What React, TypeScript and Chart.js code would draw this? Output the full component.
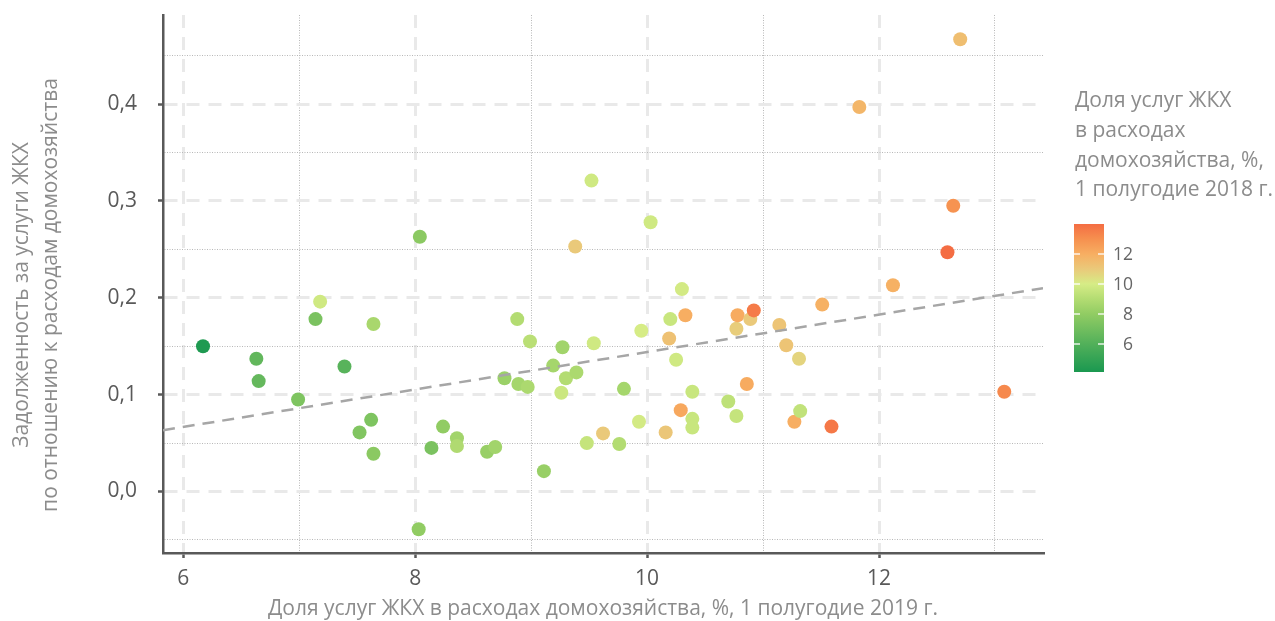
import React, { useEffect, useRef } from 'react';
import { Chart, registerables } from 'chart.js';

Chart.register(...registerables);

// ---- data ----
const xShare2019 = [
  6.17, 6.63, 6.65, 6.99, 7.14, 7.18, 7.39, 7.52, 7.62, 7.64,
  7.64, 8.04, 8.03, 8.14, 8.24, 8.36, 8.36, 8.62, 8.69, 8.77,
  8.88, 8.89, 8.97, 8.99, 9.11, 9.19, 9.26, 9.27, 9.3, 9.39,
  9.38, 9.48, 9.52, 9.54, 9.62, 9.76, 9.8, 9.93, 9.95, 10.03,
  10.16, 10.19, 10.2, 10.25, 10.29, 10.3, 10.33, 10.39, 10.39, 10.39,
  10.7, 10.77, 10.77, 10.78, 10.86, 10.89, 10.92, 11.14, 11.2, 11.27,
  11.31, 11.32, 11.51, 11.59, 11.83, 12.12, 12.59, 12.64, 12.7, 13.08,
];
const yDebt = [
  0.15, 0.137, 0.114, 0.095, 0.178, 0.196, 0.129, 0.061, 0.074, 0.173,
  0.039, 0.263, -0.039, 0.045, 0.067, 0.055, 0.047, 0.041, 0.046, 0.117,
  0.178, 0.111, 0.108, 0.155, 0.021, 0.13, 0.102, 0.149, 0.117, 0.123,
  0.253, 0.05, 0.321, 0.153, 0.06, 0.049, 0.106, 0.072, 0.166, 0.278,
  0.061, 0.158, 0.178, 0.136, 0.084, 0.209, 0.182, 0.103, 0.075, 0.066,
  0.093, 0.078, 0.168, 0.182, 0.111, 0.178, 0.187, 0.172, 0.151, 0.072,
  0.137, 0.083, 0.193, 0.067, 0.397, 0.213, 0.247, 0.295, 0.467, 0.103,
];
const cShare2018 = [
  4.3, 6.5, 6.6, 7.4, 7.3, 9.8, 6.2, 7.5, 7.4, 8.7,
  7.8, 7.8, 8.0, 7.3, 8.0, 8.5, 8.9, 8.2, 8.5, 8.3,
  9.0, 8.6, 8.8, 9.2, 8.2, 8.6, 9.7, 8.5, 9.0, 8.8,
  11.0, 9.5, 9.8, 9.8, 11.0, 9.0, 8.6, 9.9, 10.0, 9.8,
  11.1, 11.3, 9.6, 9.8, 12.2, 9.9, 12.0, 9.6, 9.6, 9.6,
  9.3, 9.5, 10.9, 12.1, 12.1, 11.0, 13.6, 11.2, 11.2, 12.0,
  10.7, 9.4, 11.9, 13.7, 11.7, 11.9, 14.0, 12.9, 11.4, 13.2,
];
const trendX = [5.825, 13.414];
const trendY = [0.0633, 0.21];

const xTickValues = [6, 7, 8, 9, 10, 11, 12, 13];
const xMajorTicks = [6, 8, 10, 12];
const yTickValues = [-0.05, 0, 0.05, 0.1, 0.15, 0.2, 0.25, 0.3, 0.35, 0.4, 0.45];
const yMajorTicks = [0, 0.1, 0.2, 0.3, 0.4];
const colorbarTicks = [6, 8, 10, 12];

const xTitle = 'Доля услуг ЖКХ в расходах домохозяйства, %, 1 полугодие 2019 г.';
const yTitle = ['Задолженность за услуги ЖКХ', 'по отношению к расходам домохозяйства'];
const legendTitle = ['Доля услуг ЖКХ', 'в расходах', 'домохозяйства, %,', '1 полугодие 2018 г.'];

const colorMin = 4.13;
const colorMax = 14.0;
const colorStopValues = [4.13, 6, 8, 9, 10, 11, 12, 13, 14];
const colorStopColors = ['#1a9850', '#52b05a', '#91cc63', '#b3dc72', '#d6ec86', '#eac97a', '#f7ae62', '#f6904f', '#f46d43'];

// ---- helpers ----
const FONT = "'Open Sans', 'Noto Sans', sans-serif";

function hexToRgb(h: string) {
  const n = parseInt(h.slice(1), 16);
  return [(n >> 16) & 255, (n >> 8) & 255, n & 255];
}
function colorFor(v: number) {
  const vs = colorStopValues;
  if (v <= vs[0]) return colorStopColors[0];
  if (v >= vs[vs.length - 1]) return colorStopColors[vs.length - 1];
  for (let i = 0; i < vs.length - 1; i++) {
    if (v >= vs[i] && v <= vs[i + 1]) {
      const t = (v - vs[i]) / (vs[i + 1] - vs[i]);
      const a = hexToRgb(colorStopColors[i]);
      const b = hexToRgb(colorStopColors[i + 1]);
      const c = a.map((x, k) => Math.round(x + (b[k] - x) * t));
      return `rgb(${c[0]},${c[1]},${c[2]})`;
    }
  }
  return colorStopColors[0];
}
const isMajor = (v: number, majors: number[]) => majors.some((m) => Math.abs(m - v) < 1e-9);

const overlayPlugin = {
  id: 'overlay',
  afterDraw(chart: any) {
    const ctx = chart.ctx as CanvasRenderingContext2D;
    ctx.save();
    // axis titles
    ctx.fillStyle = '#8c8c8c';
    ctx.font = `21px ${FONT}`;
    ctx.textAlign = 'center';
    ctx.textBaseline = 'middle';
    const ca = chart.chartArea;
    ctx.fillText(xTitle, (ca.left + ca.right) / 2, 609);
    const yc = 295;
    const lineX = [22, 51];
    yTitle.forEach((t, i) => {
      ctx.save();
      ctx.translate(lineX[i], yc);
      ctx.rotate(-Math.PI / 2);
      ctx.fillText(t, 0, 0);
      ctx.restore();
    });
    // legend title
    ctx.textAlign = 'left';
    ctx.textBaseline = 'alphabetic';
    ctx.font = `21px ${FONT}`;
    legendTitle.forEach((t, i) => ctx.fillText(t, 1075, 107 + i * 29.8));
    // colorbar
    const bx = 1074, bw = 30, top = 224, bottom = 372;
    const vy = (v: number) => bottom - ((v - colorMin) / (colorMax - colorMin)) * (bottom - top);
    const g = ctx.createLinearGradient(0, bottom, 0, top);
    colorStopValues.forEach((v, i) => {
      const t = (v - colorMin) / (colorMax - colorMin);
      g.addColorStop(Math.min(1, Math.max(0, t)), colorStopColors[i]);
    });
    ctx.fillStyle = g;
    ctx.fillRect(bx, top, bw, bottom - top);
    ctx.strokeStyle = 'rgba(255,255,255,0.85)';
    ctx.lineWidth = 1.5;
    ctx.font = `17.5px ${FONT}`;
    ctx.fillStyle = '#666666';
    ctx.textAlign = 'right';
    ctx.textBaseline = 'middle';
    colorbarTicks.forEach((v) => {
      const y = vy(v);
      ctx.beginPath();
      ctx.moveTo(bx, y);
      ctx.lineTo(bx + 6, y);
      ctx.moveTo(bx + bw - 6, y);
      ctx.lineTo(bx + bw, y);
      ctx.stroke();
      ctx.fillText(String(v), 1133, y + 1);
    });
    ctx.restore();
  },
};

export default function App() {
  const ref = useRef<HTMLCanvasElement | null>(null);
  useEffect(() => {
    if (!ref.current) return;
    const points = xShare2019.map((x, i) => ({ x, y: yDebt[i] }));
    const colors = cShare2018.map((v) => colorFor(v));
    const trend = trendX.map((x, i) => ({ x, y: trendY[i] }));
    const chart = new Chart(ref.current, {
      type: 'scatter',
      data: {
        datasets: [
          {
            type: 'line',
            data: trend,
            borderColor: '#a6a6a6',
            borderWidth: 2.5,
            borderDash: [12, 8],
            pointRadius: 0,
            fill: false,
            order: 1,
          } as any,
          {
            type: 'scatter',
            data: points,
            pointRadius: 7,
            pointHoverRadius: 7,
            pointBackgroundColor: colors,
            pointBorderWidth: 0,
            backgroundColor: colors,
            borderWidth: 0,
            order: 2,
          } as any,
        ],
      },
      options: {
        animation: false,
        responsive: true,
        maintainAspectRatio: false,
        layout: { padding: { top: 15, right: 232, left: 0, bottom: 0 } },
        plugins: { legend: { display: false }, tooltip: { enabled: false } },
        scales: {
          x: {
            type: 'linear',
            min: 5.825,
            max: 13.414,
            afterBuildTicks: (s: any) => {
              s.ticks = xTickValues.map((v) => ({ value: v }));
            },
            afterFit: (s: any) => {
              s.height = 68;
              s.paddingLeft = 0;
              s.paddingRight = 0;
              s.paddingTop = 0;
              s.paddingBottom = 0;
            },
            ticks: {
              autoSkip: false,
              maxRotation: 0,
              padding: 8,
              color: '#595959',
              font: { family: FONT, size: 21 },
              callback: (v: any) => (isMajor(Number(v), xMajorTicks) ? String(v) : ''),
            },
            grid: {
              color: (c: any) => (c.tick && isMajor(c.tick.value, xMajorTicks) ? '#e9e9e9' : '#b8b8b8'),
              lineWidth: (c: any) => (c.tick && isMajor(c.tick.value, xMajorTicks) ? 3 : 1),
              tickColor: (c: any) => (c.tick && isMajor(c.tick.value, xMajorTicks) ? '#595959' : 'rgba(0,0,0,0)'),
              tickWidth: 2.5,
              tickLength: 5,
              drawTicks: true,
            },
            border: {
              display: true,
              color: '#595959',
              width: 2.5,
              dash: (c: any) => (c.tick ? (isMajor(c.tick.value, xMajorTicks) ? [13, 9] : [1, 1.5]) : []),
            },
          } as any,
          y: {
            type: 'linear',
            min: -0.0635,
            max: 0.492,
            afterBuildTicks: (s: any) => {
              s.ticks = yTickValues.map((v) => ({ value: v }));
            },
            afterFit: (s: any) => {
              s.width = 163;
              s.paddingLeft = 0;
              s.paddingRight = 0;
              s.paddingTop = 0;
              s.paddingBottom = 0;
            },
            ticks: {
              autoSkip: false,
              padding: 21,
              color: '#595959',
              font: { family: FONT, size: 21 },
              callback: (v: any) => (isMajor(Number(v), yMajorTicks) ? Number(v).toFixed(1).replace('.', ',') : ''),
            },
            grid: {
              color: (c: any) => (c.tick && isMajor(c.tick.value, yMajorTicks) ? '#e9e9e9' : '#b8b8b8'),
              lineWidth: (c: any) => (c.tick && isMajor(c.tick.value, yMajorTicks) ? 3 : 1),
              tickColor: (c: any) => (c.tick && isMajor(c.tick.value, yMajorTicks) ? '#595959' : 'rgba(0,0,0,0)'),
              tickWidth: 2.5,
              tickLength: 5,
              drawTicks: true,
            },
            border: {
              display: true,
              color: '#595959',
              width: 2.5,
              dash: (c: any) => (c.tick ? (isMajor(c.tick.value, yMajorTicks) ? [13, 9] : [1, 1.5]) : []),
            },
          } as any,
        },
      },
      plugins: [overlayPlugin],
    });
    return () => chart.destroy();
  }, []);
  return (
    <div style={{ position: 'fixed', left: 0, top: 0, width: 1275, height: 621, background: '#fff' }}>
      <canvas ref={ref} />
    </div>
  );
}
